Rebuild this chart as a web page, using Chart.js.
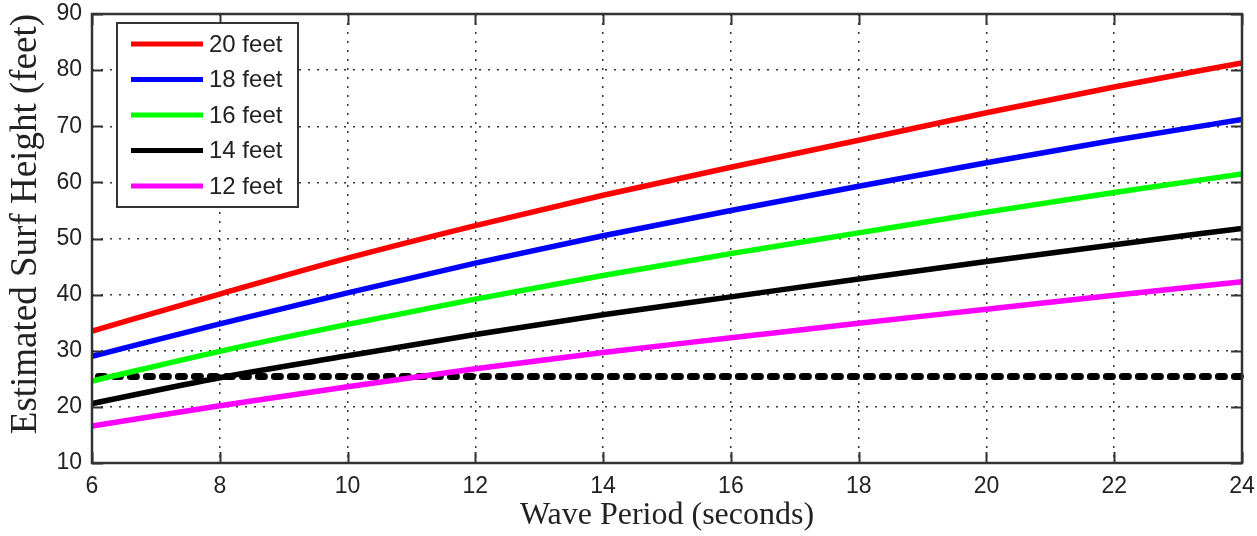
<!DOCTYPE html>
<html>
<head>
<meta charset="utf-8">
<script src="https://cdn.jsdelivr.net/npm/chart.js@4.4.1/dist/chart.umd.min.js"></script>
<style>
  html, body { margin: 0; padding: 0; background: #fff; }
  #surfChart { display: block; }
</style>
</head>
<body>
<canvas id="surfChart" width="1257" height="536"></canvas>
<script>
// wave period (s) and estimated surf height (ft) for each swell height
const periods = [6, 8, 10, 12, 14, 16, 18, 20, 22, 24];
const swell20 = [33.5, 40.1, 46.5, 52.3, 57.7, 62.7, 67.5, 72.4, 77.0, 81.3];
const swell18 = [29.0, 34.8, 40.3, 45.6, 50.5, 55.0, 59.3, 63.5, 67.5, 71.2];
const swell16 = [24.6, 29.9, 34.7, 39.2, 43.4, 47.3, 51.0, 54.7, 58.2, 61.5];
const swell14 = [20.6, 25.2, 29.1, 32.9, 36.4, 39.6, 42.8, 45.9, 48.9, 51.8];
const swell12 = [16.6, 20.2, 23.6, 26.8, 29.7, 32.3, 34.9, 37.4, 39.9, 42.3];
const swellLabels = ['20 feet', '18 feet', '16 feet', '14 feet', '12 feet'];
const swellColors = ['#ff0000', '#0000ff', '#00ff00', '#000000', '#ff00ff'];

// horizontal reference level
const thresholdHeight = 25.4;
const thresholdSpan = [6.1, 24.05];

const xTicks = [6, 8, 10, 12, 14, 16, 18, 20, 22, 24];
const yTicks = [10, 20, 30, 40, 50, 60, 70, 80, 90];

const frameColor = '#333';
const tickFont = { family: '"Liberation Sans", Arial, sans-serif', size: 23 };
const titleFamily = '"Liberation Serif", "Times New Roman", serif';

const seriesValues = [swell20, swell18, swell16, swell14, swell12];
const datasets = seriesValues.map((vals, i) => ({
  label: swellLabels[i],
  data: periods.map((p, j) => ({ x: p, y: vals[j] })),
  borderColor: swellColors[i],
  backgroundColor: swellColors[i],
  borderWidth: 5.5,
  pointRadius: 0,
  cubicInterpolationMode: 'monotone'
}));

datasets.push({
  label: 'threshold',
  hideFromLegend: true,
  data: thresholdSpan.map(x => ({ x: x, y: thresholdHeight })),
  borderColor: '#000',
  borderWidth: 7,
  borderDash: [6, 10],
  borderCapStyle: 'round',
  pointRadius: 0,
  clip: 10
});

// box around the plot with inward tick marks on all four sides
const framePlugin = {
  id: 'frame',
  afterDraw(chart) {
    const { ctx, chartArea: a, scales } = chart;
    const len = 11;
    ctx.save();
    ctx.strokeStyle = frameColor;
    ctx.lineWidth = 2;
    ctx.beginPath();
    xTicks.forEach(v => {
      const px = Math.round(scales.x.getPixelForValue(v)) + 0.5;
      ctx.moveTo(px, a.bottom); ctx.lineTo(px, a.bottom - len);
      ctx.moveTo(px, a.top); ctx.lineTo(px, a.top + len);
    });
    yTicks.forEach(v => {
      const py = Math.round(scales.y.getPixelForValue(v)) + 0.5;
      ctx.moveTo(a.left, py); ctx.lineTo(a.left + len, py);
      ctx.moveTo(a.right, py); ctx.lineTo(a.right - len, py);
    });
    ctx.stroke();
    ctx.lineWidth = 2.5;
    ctx.strokeRect(a.left, a.top, a.right - a.left, a.bottom - a.top);
    ctx.restore();
  }
};

// boxed legend in the upper-left corner of the plot
const boxLegendPlugin = {
  id: 'boxLegend',
  afterDraw(chart) {
    const { ctx, chartArea: a } = chart;
    const items = chart.data.datasets.filter(d => !d.hideFromLegend);
    const left = a.left + 25, top = a.top + 9, w = 181, h = 184;
    ctx.save();
    ctx.fillStyle = '#fff';
    ctx.fillRect(left, top, w, h);
    ctx.strokeStyle = frameColor;
    ctx.lineWidth = 2;
    ctx.strokeRect(left, top, w, h);
    ctx.font = '24px "Liberation Sans", Arial, sans-serif';
    ctx.textBaseline = 'middle';
    items.forEach((d, i) => {
      const y = top + 21 + i * 35.5;
      ctx.strokeStyle = d.borderColor;
      ctx.lineWidth = 5;
      ctx.beginPath();
      ctx.moveTo(left + 14, y);
      ctx.lineTo(left + 86, y);
      ctx.stroke();
      ctx.fillStyle = '#222';
      ctx.fillText(d.label, left + 92, y + 1);
    });
    ctx.restore();
  }
};

new Chart(document.getElementById('surfChart'), {
  type: 'line',
  data: { datasets: datasets },
  plugins: [framePlugin, boxLegendPlugin],
  options: {
    responsive: false,
    animation: false,
    layout: { padding: { top: 14, right: 15, left: 0, bottom: 0 } },
    plugins: {
      legend: { display: false },
      tooltip: { enabled: false }
    },
    scales: {
      x: {
        type: 'linear',
        min: 6,
        max: 24,
        afterBuildTicks: s => { s.ticks = xTicks.map(v => ({ value: v })); },
        afterFit: s => { s.height = 73; s.paddingLeft = 0; s.paddingRight = 0; },
        grid: { color: '#333', lineWidth: 1.5, drawTicks: false },
        border: { display: false, dash: [2, 7] },
        ticks: { color: '#222', font: tickFont, padding: 10, maxRotation: 0 },
        title: {
          display: true,
          text: 'Wave Period (seconds)',
          color: '#222',
          font: { family: titleFamily, size: 32 },
          padding: { top: 0, bottom: 1 }
        }
      },
      y: {
        type: 'linear',
        min: 10,
        max: 90,
        afterBuildTicks: s => { s.ticks = yTicks.map(v => ({ value: v })); },
        afterFit: s => { s.width = 92; s.paddingTop = 0; s.paddingBottom = 0; },
        grid: { color: '#333', lineWidth: 1.5, drawTicks: false },
        border: { display: false, dash: [2, 7] },
        ticks: { color: '#222', font: tickFont, padding: 10 },
        title: {
          display: true,
          text: 'Estimated Surf Height (feet)',
          align: 'end',
          color: '#222',
          font: { family: titleFamily, size: 37 },
          padding: { top: 4, bottom: 0 }
        }
      }
    }
  }
});
</script>
</body>
</html>
